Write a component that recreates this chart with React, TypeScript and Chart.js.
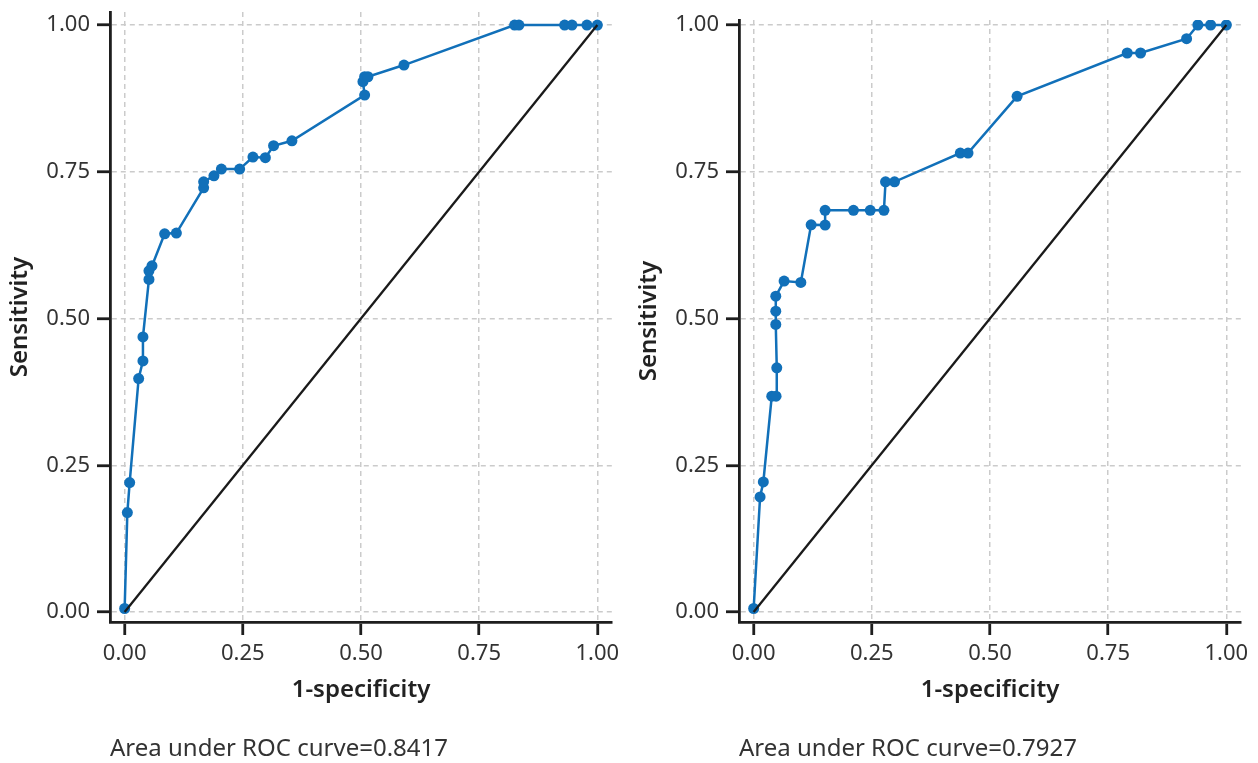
import React, { useEffect, useRef } from "react";
import { Chart, registerables } from "chart.js";

Chart.register(...registerables);

// ---- data ----
const tickValues = [0, 0.25, 0.5, 0.75, 1];

const leftFpr = [0, 0.0057, 0.0106, 0.0296, 0.0387, 0.0387, 0.0514, 0.0514, 0.0578, 0.0846, 0.1094, 0.1671, 0.1671, 0.1889, 0.2046, 0.2433, 0.2714, 0.2977, 0.315, 0.3539, 0.5077, 0.5041, 0.5077, 0.5147, 0.5909, 0.825, 0.8341, 0.9308, 0.9463, 0.978, 1.0];
const leftTpr = [0.006, 0.1694, 0.2206, 0.3978, 0.4278, 0.4687, 0.5666, 0.5812, 0.5897, 0.6443, 0.6455, 0.7227, 0.7329, 0.7431, 0.7546, 0.7546, 0.775, 0.774, 0.7944, 0.8028, 0.8807, 0.9034, 0.9119, 0.9119, 0.9318, 1.0, 1.0, 1.0, 1.0, 1.0, 1.0];

const rightFpr = [0, 0.0136, 0.0205, 0.0383, 0.0474, 0.0489, 0.0468, 0.0468, 0.0468, 0.0644, 0.0998, 0.1216, 0.1512, 0.1512, 0.2112, 0.2466, 0.2756, 0.279, 0.298, 0.4372, 0.4535, 0.5573, 0.7903, 0.8185, 0.9159, 0.9398, 0.9667, 1.0];
const rightTpr = [0.006, 0.196, 0.2216, 0.3677, 0.3677, 0.4159, 0.4899, 0.5125, 0.5381, 0.5637, 0.5614, 0.6596, 0.6591, 0.6842, 0.6842, 0.6842, 0.6842, 0.7329, 0.7329, 0.7818, 0.7818, 0.8785, 0.9523, 0.9523, 0.9766, 1.0, 1.0, 1.0];

const diagonalX = [0, 1];
const diagonalY = [0, 1];

const aucLabels = ["Area under ROC curve=0.8417", "Area under ROC curve=0.7927"];
const xTitle = "1-specificity";
const yTitle = "Sensitivity";

const BLUE = "#1170b9";
const AXIS = "#1e1e1e";
const FONT = '"Noto Sans", "Open Sans", sans-serif';

type RocProps = { fpr: number[]; tpr: number[]; top: number; yMax: number };

function RocChart({ fpr, tpr, top, yMax }: RocProps) {
  const ref = useRef<HTMLCanvasElement>(null);

  useEffect(() => {
    if (!ref.current) return;
    const gridOpts = {
      display: true,
      color: "#cbcbcb",
      lineWidth: 1.5,
      drawTicks: true,
      tickLength: 13,
      tickColor: AXIS,
      tickWidth: 2.8,
      tickBorderDash: [],
    };
    const borderOpts = { display: true, color: AXIS, width: 2.8, dash: [5, 4] };
    const tickFont = { family: FONT, size: 22 };
    const titleFont = { family: FONT, size: 24, weight: 600 };

    const chart = new Chart(ref.current, {
      type: "scatter",
      data: {
        datasets: [
          {
            data: diagonalX.map((x, i) => ({ x, y: diagonalY[i] })),
            showLine: true,
            borderColor: "#1a1a1a",
            borderWidth: 2.3,
            pointRadius: 0,
            tension: 0,
          },
          {
            data: fpr.map((x, i) => ({ x, y: tpr[i] })),
            showLine: true,
            borderColor: BLUE,
            backgroundColor: BLUE,
            borderWidth: 2.5,
            pointRadius: 5.5,
            pointBorderWidth: 0,
            pointBackgroundColor: BLUE,
            tension: 0,
          },
        ],
      },
      options: {
        animation: false,
        responsive: false,
        devicePixelRatio: 1,
        layout: { padding: { top, right: 17, left: 0, bottom: 0 } },
        plugins: {
          legend: { display: false },
          tooltip: { enabled: false },
        },
        scales: {
          x: {
            type: "linear",
            min: -0.031,
            max: 1.031,
            afterBuildTicks: (s: any) => {
              s.ticks = tickValues.map((v) => ({ value: v }));
            },
            afterFit: (s: any) => {
              s.height = 141;
              s.paddingLeft = 0;
              s.paddingRight = 0;
            },
            ticks: {
              autoSkip: false,
              maxRotation: 0,
              padding: 6,
              color: "#333333",
              font: tickFont,
              callback: (v: any) => Number(v).toFixed(2),
            },
            grid: gridOpts,
            border: borderOpts,
            title: {
              display: true,
              text: xTitle,
              color: "#222222",
              font: titleFont,
              padding: { top: 0, bottom: 58 },
            },
          },
          y: {
            type: "linear",
            min: -0.017,
            max: yMax,
            afterBuildTicks: (s: any) => {
              s.ticks = tickValues.map((v) => ({ value: v }));
            },
            afterFit: (s: any) => {
              s.width = 110;
              s.paddingTop = 0;
              s.paddingBottom = 0;
            },
            ticks: {
              autoSkip: false,
              padding: 7,
              color: "#333333",
              font: tickFont,
              callback: (v: any) => Number(v).toFixed(2),
            },
            grid: gridOpts,
            border: borderOpts,
            title: {
              display: true,
              text: yTitle,
              color: "#222222",
              font: titleFont,
              padding: { top: 6, bottom: 0 },
            },
          },
        },
      },
    } as any);

    return () => chart.destroy();
  }, [fpr, tpr, top, yMax]);

  return <canvas ref={ref} width={629} height={763} style={{ display: "block", width: 629, height: 763 }} />;
}

export default function App() {
  const noteStyle: React.CSSProperties = {
    position: "absolute",
    top: 735,
    fontFamily: FONT,
    fontSize: 24,
    lineHeight: "24px",
    color: "#333333",
    whiteSpace: "nowrap",
  };
  return (
    <div style={{ position: "absolute", left: 0, top: 0, width: 1258, height: 763, background: "#ffffff", overflow: "hidden" }}>
      <div style={{ position: "absolute", left: 0, top: 0 }}>
        <RocChart fpr={leftFpr} tpr={leftTpr} top={12} yMax={1.0222} />
      </div>
      <div style={{ position: "absolute", left: 629, top: 0 }}>
        <RocChart fpr={rightFpr} tpr={rightTpr} top={20} yMax={1.0085} />
      </div>
      <div style={{ ...noteStyle, left: 110 }}>{aucLabels[0]}</div>
      <div style={{ ...noteStyle, left: 739 }}>{aucLabels[1]}</div>
    </div>
  );
}
